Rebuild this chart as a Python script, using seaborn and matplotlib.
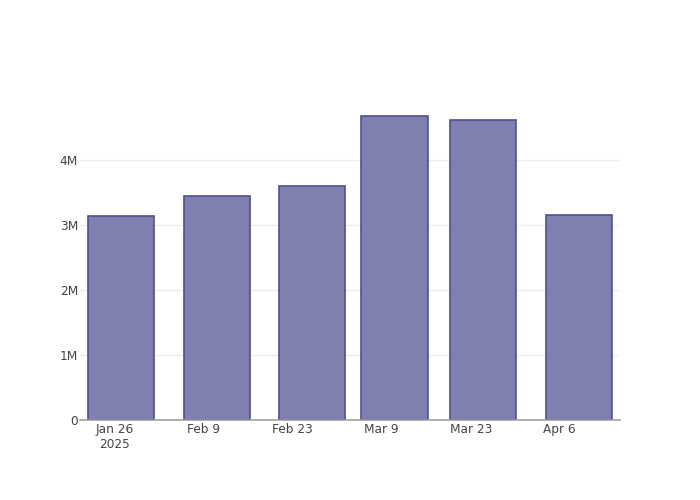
import matplotlib
matplotlib.use("Agg")
import matplotlib.pyplot as plt
import matplotlib.dates as mdates
import matplotlib.ticker as mticker
import seaborn as sns
import pandas as pd
import numpy as np

# ---- data ----
dates = ["2025-01-27", "2025-02-11", "2025-02-26", "2025-03-11", "2025-03-25", "2025-04-09"]
values = [3136000, 3448000, 3598000, 4687000, 4619000, 3151000]
tick_dates = ["2025-01-26", "2025-02-09", "2025-02-23", "2025-03-09", "2025-03-23", "2025-04-06"]
tick_labels = ["Jan 26\n2025", "Feb 9", "Feb 23", "Mar 9", "Mar 23", "Apr 6"]
y_ticks = [0, 1000000, 2000000, 3000000, 4000000]
y_tick_labels = ["0", "1M", "2M", "3M", "4M"]

sns.set_theme(style="white")
plt.rcParams["font.family"] = ["DejaVu Sans"]

xnum = mdates.date2num(pd.to_datetime(dates))
df = pd.DataFrame({"x": xnum, "y": values})

fig = plt.figure(figsize=(7, 5), dpi=100)
ax = fig.add_axes([80 / 700, 80 / 500, 540 / 700, 320 / 500])

sns.barplot(data=df, x="x", y="y", native_scale=True, width=0.8,
            color="#7f7fb0", saturation=1, edgecolor="#50508f",
            linewidth=1.2, ax=ax, zorder=3)
for p in ax.patches:
    p.set_facecolor("#7f7fb0")
    p.set_edgecolor("#50508f")

spacing = np.min(np.diff(xnum))
ax.set_xlim(xnum[0] - spacing / 2, xnum[-1] + spacing / 2)
ax.set_ylim(0, 4.93e6)

ax.xaxis.set_major_locator(mticker.FixedLocator(mdates.date2num(pd.to_datetime(tick_dates))))
ax.xaxis.set_major_formatter(mticker.FixedFormatter(tick_labels))
ax.set_yticks(y_ticks)
ax.set_yticklabels(y_tick_labels)

ax.grid(axis="y", color="#eeeeee", linewidth=1.0, zorder=0)
ax.grid(axis="x", visible=False)
ax.set_axisbelow(True)

for s in ["top", "right", "left"]:
    ax.spines[s].set_visible(False)
ax.spines["bottom"].set_color("#999999")
ax.spines["bottom"].set_linewidth(1.1)
ax.spines["bottom"].set_zorder(5)

ax.tick_params(axis="both", length=0, labelsize=8.7, labelcolor="#444444")
ax.tick_params(axis="x", pad=2)
ax.tick_params(axis="y", pad=1.5)
ax.set_xlabel("")
ax.set_ylabel("")

fig.savefig("out.png", dpi=100)
